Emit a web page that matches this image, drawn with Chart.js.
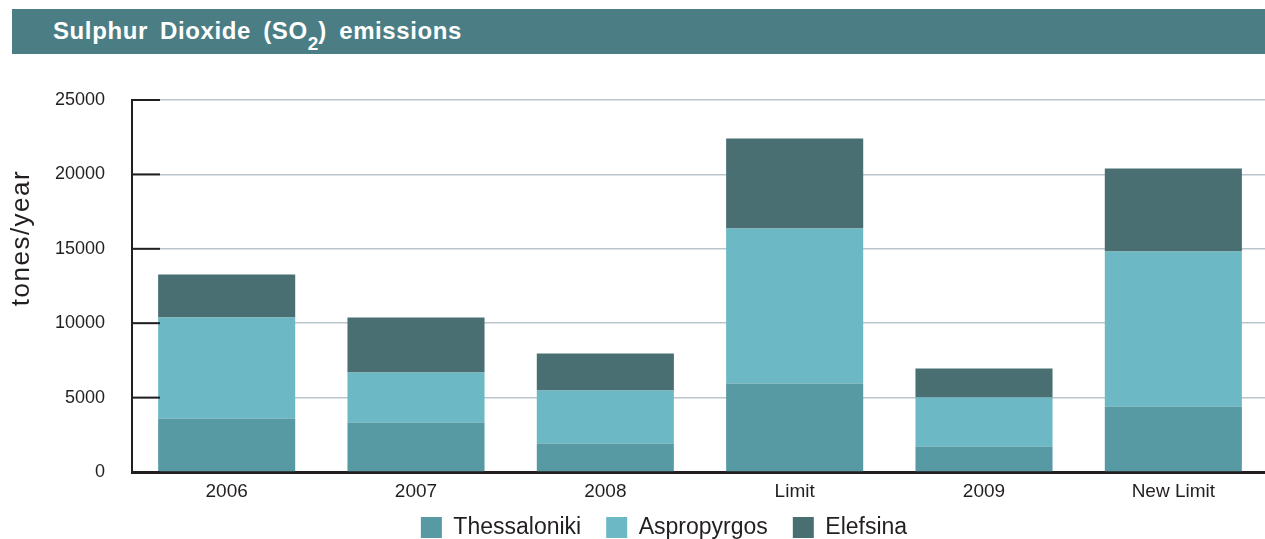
<!DOCTYPE html>
<html>
<head>
<meta charset="utf-8">
<script src="https://cdn.jsdelivr.net/npm/chart.js@4/dist/chart.umd.min.js"></script>
<style>
  html, body { margin: 0; padding: 0; background: #fff; overflow: hidden; width: 1265px; height: 539px; }
  #titleBar {
    position: absolute; left: 12px; top: 9px; width: 1253px; height: 45px; z-index: 2;
    background: #4b7e84; color: #fff; box-sizing: border-box; padding-left: 41px;
    font: bold 24px "Liberation Sans", Arial, sans-serif; line-height: 43px; white-space: nowrap;
    letter-spacing: 0.6px; word-spacing: 5px;
  }
  #titleBar sub { font-size: 19px; vertical-align: -11px; line-height: 0; letter-spacing: 0; }
  #wrap { position: absolute; left: 0; top: 0; width: 1268px; height: 558px; }
</style>
</head>
<body>
<div id="titleBar">Sulphur Dioxide (SO<sub>2</sub>) emissions</div>
<div id="wrap"><canvas id="barChart"></canvas></div>
<script>
"use strict"

const categories = ['2006', '2007', '2008', 'Limit', '2009', 'New Limit'];
const thessaloniki = [3600, 3330, 1920, 5950, 1710, 4400];
const aspropyrgos = [6780, 3360, 3560, 10410, 3300, 10420];
const elefsina = [2890, 3690, 2480, 6050, 1950, 5580];
const yTicks = [0, 5000, 10000, 15000, 20000, 25000];
const yTitle = 'tones/year';

const dark = '#231f20';
const font = '"Liberation Sans", Arial, sans-serif';

// nudge the legend a bit right and up, like in the original
const legendNudge = {
  id: 'legendNudge',
  afterLayout(chart) {
    const lg = chart.legend;
    lg.left += 30; lg.right += 30;
    lg.top -= 9; lg.bottom -= 9;
  }
};

// short tick marks inside the plot + the axis title, which sits above centre
const axisExtras = {
  id: 'axisExtras',
  afterDraw(chart) {
    const ctx = chart.ctx;
    const y = chart.scales.y;
    const left = chart.chartArea.left;
    ctx.save();
    ctx.strokeStyle = dark;
    ctx.lineWidth = 2;
    yTicks.forEach(v => {
      const py = y.getPixelForValue(v);
      ctx.beginPath();
      ctx.moveTo(left, py);
      ctx.lineTo(left + 28, py);
      ctx.stroke();
    });
    ctx.translate(22, 238);
    ctx.rotate(-Math.PI / 2);
    ctx.font = '26px ' + font;
    ctx.letterSpacing = '1.5px';
    ctx.fillStyle = dark;
    ctx.textAlign = 'center';
    ctx.textBaseline = 'middle';
    ctx.fillText(yTitle, 0, 0);
    ctx.restore();
  }
};

document.addEventListener("DOMContentLoaded", () => {
  drawBarChart();
});

function drawBarChart() {
  const bar = { categoryPercentage: 1, barPercentage: 0.724, borderWidth: 0 };
  const options = {
    type: 'bar',
    data: {
      labels: categories,
      datasets: [
        Object.assign({ label: 'Thessaloniki', data: thessaloniki, backgroundColor: '#579aa3' }, bar),
        Object.assign({ label: 'Aspropyrgos', data: aspropyrgos, backgroundColor: '#6cb9c5' }, bar),
        Object.assign({ label: 'Elefsina', data: elefsina, backgroundColor: '#496f72' }, bar)
      ]
    },
    options: {
      responsive: true,
      maintainAspectRatio: false,
      animation: false,
      layout: { padding: { left: 0, top: 100, right: 0, bottom: 0 } },
      plugins: {
        tooltip: { enabled: false },
        legend: {
          position: 'bottom',
          labels: {
            boxWidth: 21, boxHeight: 21, padding: 25,
            color: dark,
            font: { family: font, size: 23 }
          }
        }
      },
      scales: {
        x: {
          stacked: true,
          grid: { display: false, drawTicks: false },
          border: { color: dark, width: 3 },
          ticks: { color: dark, padding: 8, font: { family: font, size: 19 } },
          afterFit(scale) { scale.height = 28; }
        },
        y: {
          stacked: true,
          min: 0, max: 25000,
          grid: { color: '#b9c5cd', lineWidth: 1.5, drawTicks: false },
          border: { color: dark, width: 2 },
          ticks: {
            stepSize: 5000,
            padding: 27,
            color: dark,
            font: { family: font, size: 18 },
            callback: v => String(v)
          },
          afterFit(scale) { scale.width = 132; }
        }
      }
    },
    plugins: [axisExtras, legendNudge]
  };
  const ctx = document.getElementById('barChart');
  new Chart(ctx, options);
}
</script>
</body>
</html>
